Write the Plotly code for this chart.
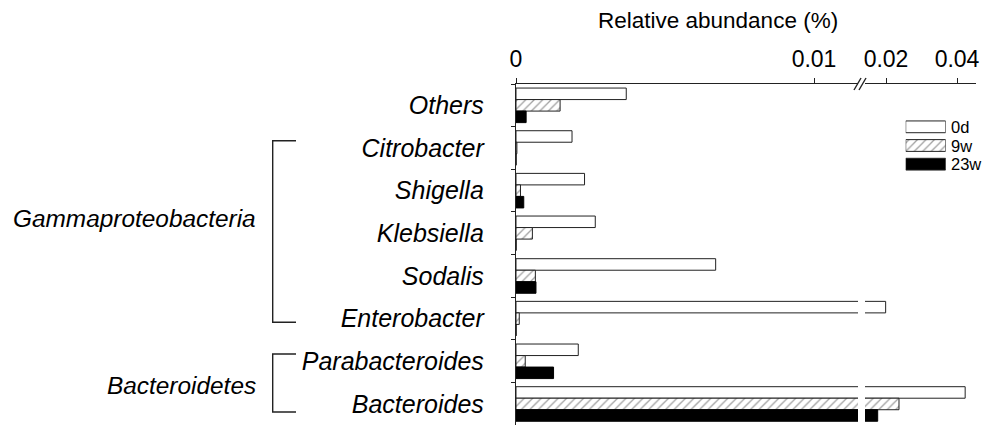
import plotly.graph_objects as go

# ---------------- data ----------------
genera = ["Others", "Citrobacter", "Shigella", "Klebsiella", "Sodalis",
          "Enterobacter", "Parabacteroides", "Bacteroides"]
series_names = ["0d", "9w", "23w"]
vals_0d = [0.0037, 0.00188, 0.0023, 0.00266, 0.0067, 0.0199, 0.00209, 0.0423]
vals_9w = [0.00148, 0.00003, 0.00015, 0.00055, 0.00065, 0.00011, 0.00031, 0.02366]
vals_23w = [0.00034, 0.0, 0.00026, 0.0, 0.00067, 0.0, 0.00126, 0.01766]
seg1_ticks = [0, 0.01]
seg1_ticktext = ["0", "0.01"]
seg2_ticks = [0.02, 0.04]
seg2_ticktext = ["0.02", "0.04"]
group_labels = ["Gammaproteobacteria", "Bacteroidetes"]
x_title = "Relative abundance (%)"

W, H = 989, 428
FONT = "Liberation Sans, Arial, sans-serif"
LINE = "#222222"


def px(x):
    return x / W


def py(y):
    return 1 - y / H


styles = {
    "0d": dict(color="white", line=dict(color=LINE, width=1)),
    "9w": dict(color="white", line=dict(color=LINE, width=1),
               pattern=dict(shape="/", fgcolor="#444444", bgcolor="white",
                            size=6, solidity=0.22)),
    "23w": dict(color="black", line=dict(color="black", width=1)),
}
series_vals = {"0d": vals_0d, "9w": vals_9w, "23w": vals_23w}

fig = go.Figure()
for xa in ["x", "x2"]:
    for name in series_names:
        fig.add_trace(go.Bar(
            y=genera, x=series_vals[name], orientation="h", name=name,
            marker=styles[name], xaxis=xa, yaxis="y", showlegend=False,
            offsetgroup=name, hoverinfo="skip"))

# legend swatches on a small separate subplot
fig.add_trace(go.Bar(
    y=series_names, x=[1, 1, 1], orientation="h", xaxis="x3", yaxis="y3",
    width=0.63, showlegend=False, offsetgroup="leg", hoverinfo="skip",
    marker=dict(color=["white", "white", "black"],
                line=dict(color=LINE, width=1),
                pattern=dict(shape=["", "/", ""], fgcolor="#444444",
                             bgcolor="white", size=6, solidity=0.22))))
for name in series_names:
    fig.add_annotation(x=1, y=name, xref="x3", yref="y3", text=name,
                       showarrow=False, xanchor="left", yanchor="middle",
                       xshift=4, borderpad=0,
                       font=dict(family=FONT, size=16.5, color="black"))

# axis break geometry (pixels)
X0, XBRK1, XBRK2, XEND = 516, 858, 865, 976
YTOP, YBOT = 84, 425.3
u1 = 0.01 / (814 - X0)          # value per pixel, segment 1
u2 = 0.02 / (957 - 886)         # value per pixel, segment 2
seg1_range = [0, (XBRK1 - X0) * u1]
seg2_range = [0.02 - (886 - XBRK2) * u2, 0.02 + (XEND - 886) * u2]

axis_common = dict(showline=True, linecolor=LINE, linewidth=1.4,
                   showgrid=False, zeroline=False, ticks="outside",
                   ticklen=5, tickcolor=LINE, side="top", anchor="y",
                   ticklabelstandoff=2,
                   tickfont=dict(family=FONT, size=23, color="black"),
                   automargin=False, fixedrange=True)

fig.update_layout(
    width=W, height=H,
    margin=dict(l=0, r=0, t=0, b=0),
    paper_bgcolor="white", plot_bgcolor="rgba(0,0,0,0)",
    barmode="group", bargap=0.19, bargroupgap=0,
    font=dict(family=FONT, color="black"),
    xaxis=dict(domain=[px(X0), px(XBRK1)], range=seg1_range,
               tickvals=seg1_ticks, ticktext=seg1_ticktext, **axis_common),
    xaxis2=dict(domain=[px(XBRK2), px(XEND)], range=seg2_range,
                tickvals=seg2_ticks, ticktext=seg2_ticktext, **axis_common),
    yaxis=dict(domain=[py(YBOT), py(YTOP)], anchor="x",
               categoryorder="array", categoryarray=genera,
               range=[7.5, -0.5], showline=True, linecolor=LINE,
               linewidth=1.4, ticks="outside", ticklen=4, tickcolor=LINE,
               tickson="boundaries", showgrid=False, zeroline=False,
               ticklabelstandoff=26, automargin=False, fixedrange=True,
               tickfont=dict(family=FONT, size=25, color="black",
                             style="italic")),
    xaxis3=dict(domain=[px(905.7), px(945.7)], range=[0, 1], visible=False,
                anchor="y3", fixedrange=True),
    yaxis3=dict(domain=[py(173.5), py(117.5)], anchor="x3",
                categoryorder="array", categoryarray=series_names,
                range=[2.5, -0.5], visible=False, fixedrange=True),
)

# axis title
fig.add_annotation(x=px(718), y=py(20), xref="paper", yref="paper",
                   text=x_title, showarrow=False, xanchor="center",
                   yanchor="middle",
                   font=dict(family=FONT, size=22.5, color="black"))

# axis break marks "//"
for dx in (0, 5):
    fig.add_shape(type="line", xref="paper", yref="paper",
                  x0=px(854 + dx), y0=py(90), x1=px(861 + dx), y1=py(78),
                  line=dict(color=LINE, width=1.4))

# phylum brackets and labels
brackets = [(140.7, 322.3, 218, group_labels[0]),
            (354, 412, 385, group_labels[1])]
BX, BX2 = 272.7, 296
for top, bot, mid, label in brackets:
    fig.add_shape(type="path", xref="paper", yref="paper",
                  path=(f"M {px(BX2)} {py(top)} L {px(BX)} {py(top)} "
                        f"L {px(BX)} {py(bot)} L {px(BX2)} {py(bot)}"),
                  line=dict(color=LINE, width=1.4))
    fig.add_annotation(x=px(258), y=py(mid), xref="paper", yref="paper",
                       text=f"<i>{label}</i>", showarrow=False,
                       xanchor="right", yanchor="middle",
                       font=dict(family=FONT, size=24.4, color="black"))

fig.write_html("out.html")
